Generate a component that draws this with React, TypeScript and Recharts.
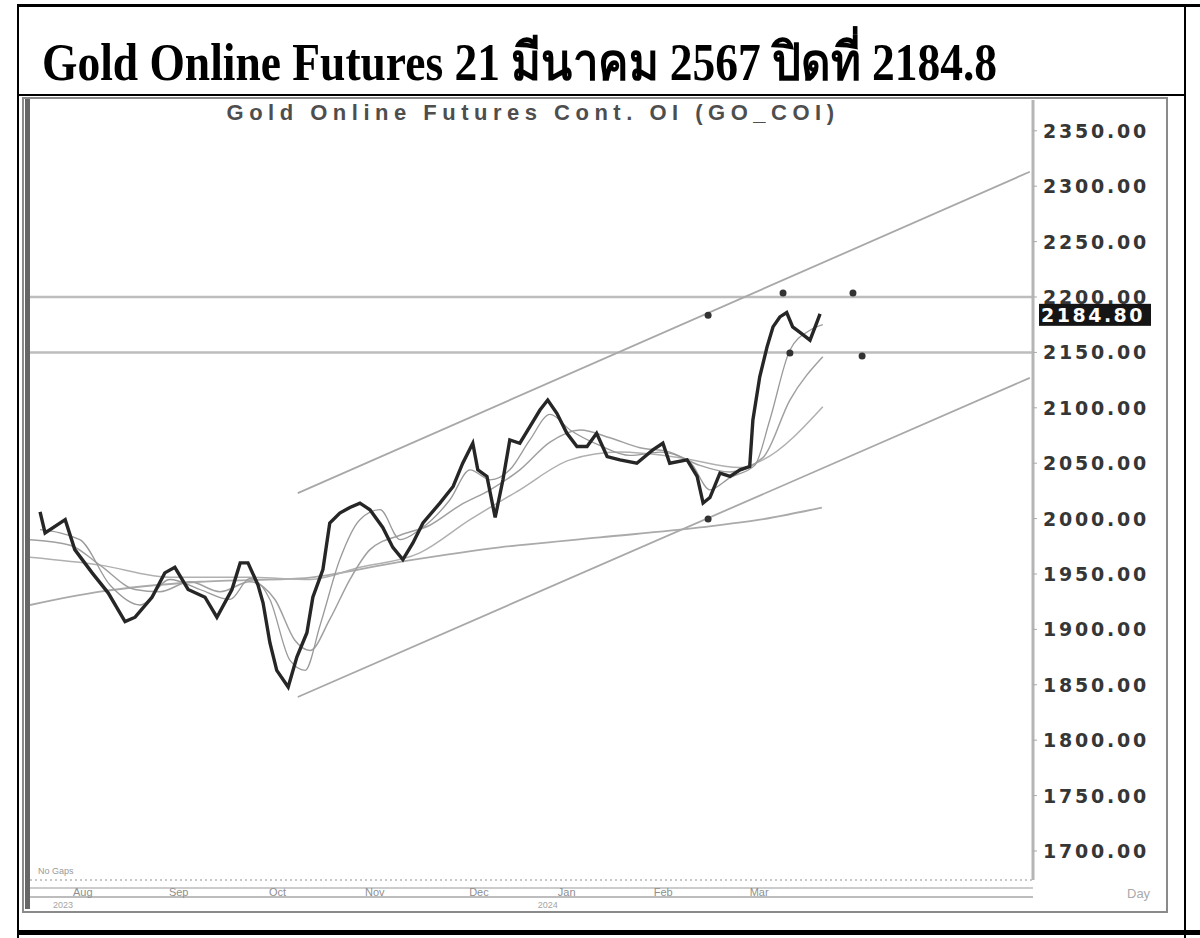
import React from 'react';
import { ComposedChart, Line, Scatter, XAxis, YAxis, ReferenceLine } from 'recharts';

// trading-day index (0 = left edge of the plot) and closing price
const closeDays = [2.2, 3.3, 7.7, 9.8, 13.6, 17.1, 20.8, 23, 26.7, 29.5, 31.7, 34.6, 38.3, 40.9, 44.2, 46, 47.7, 49.9, 51, 52.5, 54, 56.5, 58.4, 60.6, 61.9, 64.1, 65.6, 67.8, 70, 72.2, 74.4, 77.2, 79.4, 81.6, 83.8, 86, 89.7, 92.6, 94.7, 96.9, 98, 100, 101.8, 103.5, 105, 107.2, 109.4, 111.6, 113.3, 115.3, 117.5, 119.7, 121.9, 124, 126.3, 129.1, 132.8, 136.3, 138.5, 140, 143.8, 146, 147.3, 148.8, 151, 153.2, 155.4, 157.5, 158.2, 159.7, 161.3, 162.6, 164.1, 165.6, 166.9, 168.5, 170.7, 172.2, 172.9];
const closeValues = [2006, 1987, 1999, 1972, 1951, 1933, 1907, 1911, 1929, 1951, 1956, 1936, 1929, 1911, 1936, 1960, 1960, 1940, 1924, 1888, 1863, 1848, 1875, 1897, 1929, 1954, 1996, 2005, 2010, 2014, 2008, 1992, 1974, 1963, 1978, 1996, 2014, 2029, 2050, 2068, 2044, 2038, 2001, 2035, 2071, 2068, 2083, 2098, 2107, 2095, 2077, 2065, 2065, 2077, 2056, 2053, 2050, 2062, 2068, 2050, 2053, 2038, 2014, 2019, 2041, 2038, 2044, 2047, 2089, 2128, 2155, 2173, 2182, 2186, 2173, 2168, 2161, 2177, 2184.8];

// moving averages
const maFastDays = [2.2, 10.9, 17.5, 24.1, 30.6, 37.2, 43.8, 48.1, 52.5, 56.9, 60.2, 63.5, 67.8, 72.2, 76.6, 81, 85.3, 91.9, 96.3, 100.7, 105, 109.4, 113.8, 118.2, 124.7, 131.3, 137.9, 144.4, 148.8, 153.2, 158.6, 161.9, 166.3, 170.7, 173.5];
const maFastValues = [1990, 1981, 1940, 1922, 1945, 1936, 1927, 1946, 1927, 1872, 1863, 1904, 1963, 1999, 2008, 1981, 1990, 2017, 2044, 2035, 2044, 2071, 2094, 2080, 2066, 2057, 2060, 2051, 2026, 2037, 2048, 2089, 2152, 2170, 2175];

const maMidDays = [0, 8.8, 15.3, 23, 28.4, 35, 41.6, 48.1, 53.6, 58, 61.3, 65.6, 70, 74.4, 81, 87.5, 94.1, 100.7, 107.2, 113.8, 120.4, 126.9, 133.5, 140, 146.6, 153.2, 160.4, 166.3, 173.5];
const maMidValues = [1981, 1976, 1958, 1936, 1934, 1943, 1934, 1943, 1927, 1890, 1881, 1909, 1945, 1972, 1985, 1994, 2012, 2026, 2044, 2069, 2080, 2073, 2064, 2060, 2048, 2042, 2055, 2107, 2146];

const maSlowDays = [0, 15.3, 30.6, 48.1, 61.3, 72.2, 85.3, 96.3, 107.2, 118.2, 129.1, 142.2, 155.4, 160.4, 173.5];
const maSlowValues = [1965, 1958, 1947, 1947, 1945, 1956, 1969, 1999, 2026, 2053, 2060, 2055, 2046, 2053, 2101];

const maLongDays = [0, 15.3, 37.2, 59.1, 81, 102.8, 124.7, 146.6, 159.7, 173.3];
const maLongValues = [1922, 1934, 1943, 1946, 1961, 1974, 1983, 1992, 1999, 2010];

// trend channel and horizontal levels
const upperChannel = [{ x: 58.6, y: 2023 }, { x: 218.8, y: 2313 }];
const lowerChannel = [{ x: 58.6, y: 1839 }, { x: 218.8, y: 2127 }];
const levels = [2200, 2150];

// marker dots
const markerDays = [148.4, 164.8, 180.1, 166.3, 182.1, 148.4];
const markerValues = [2183.6, 2203.6, 2203.6, 2149.5, 2146.8, 1999.6];

const yTicks = [1700, 1750, 1800, 1850, 1900, 1950, 2000, 2050, 2100, 2150, 2200, 2250, 2300, 2350];
const monthDays = [9.4, 30.4, 52.3, 73.3, 96.1, 115.5, 136.5, 157.5];
const monthNames = ['Aug', 'Sep', 'Oct', 'Nov', 'Dec', 'Jan', 'Feb', 'Mar'];
const yearNames = ['2023', '', '', '', '', '2024', '', ''];

const lastClose = closeValues[closeValues.length - 1];

const toPoints = (days: number[], values: number[]) => days.map((d, i) => ({ d, v: values[i] }));

const MonthTick = ({ x, y, payload }: any) => {
  const i = monthDays.indexOf(payload.value);
  return (
    <g>
      <text x={x} y={y + 8} fontSize={11} fill="#8f8f8f" fontFamily="Liberation Sans, Arial, sans-serif">
        {monthNames[i]}
      </text>
      {yearNames[i] && (
        <text x={x - 20} y={y + 20} fontSize={9} fill="#a5a5a5" fontFamily="Liberation Sans, Arial, sans-serif">
          {yearNames[i]}
        </text>
      )}
    </g>
  );
};

const PriceTick = ({ x, y, payload }: any) => (
  <text x={x + 4} y={y + 7} fontSize={19} fontWeight="bold" fill="#363636" letterSpacing={2.8}
    fontFamily="DejaVu Sans, Arial, sans-serif">
    {payload.value.toFixed(2)}
  </text>
);

const PriceTag = ({ viewBox }: any) => {
  const x = viewBox.x + viewBox.width + 6;
  const y = viewBox.y;
  return (
    <g>
      <rect x={x} y={y - 10} width={112} height={22} fill="#151515" />
      <text x={x + 2} y={y + 8} fontSize={19} fontWeight="bold" fill="#fff" letterSpacing={2.5}
        fontFamily="DejaVu Sans, Arial, sans-serif">
        {lastClose.toFixed(2)}
      </text>
    </g>
  );
};

const box = (left: number, top: number, width: number, height: number, background: string): React.CSSProperties => ({
  position: 'absolute', left, top, width, height, background,
});

export default function App() {
  return (
    <div style={{ position: 'absolute', left: 0, top: 0, width: 1200, height: 938, background: '#fff', overflow: 'hidden' }}>
      {/* table frame */}
      <div style={box(17, 4, 1183, 3, '#000')} />
      <div style={box(17, 4, 2, 934, '#000')} />
      <div style={box(1184, 4, 2, 934, '#000')} />
      <div style={box(17, 94, 1169, 2, '#000')} />
      <div style={box(17, 930, 1183, 5, '#000')} />

      <div style={{
        position: 'absolute', left: 42, top: 20, whiteSpace: 'nowrap',
        fontFamily: "'Liberation Serif', 'Times New Roman', serif", fontWeight: 'bold', fontSize: 52,
        color: '#000', transform: 'scaleX(0.875)', transformOrigin: 'left top',
      }}>
        Gold Online Futures 21 มีนาคม 2567 ปิดที่ 2184.8
      </div>

      {/* chart picture frame */}
      <div style={{ position: 'absolute', left: 22, top: 97, width: 1142, height: 812, border: '2px solid #8a8a8a' }} />
      <div style={box(25, 99, 5, 810, '#666')} />
      <div style={box(30, 887, 1003, 2, '#ccc')} />
      <div style={box(30, 896, 1003, 2, '#bdbdbd')} />

      <div style={{
        position: 'absolute', left: 0, width: 1066, top: 100, textAlign: 'center',
        fontFamily: "'Liberation Sans', Arial, sans-serif", fontWeight: 'bold', fontSize: 22,
        letterSpacing: 5.5, color: '#4e4e4e',
      }}>
        Gold Online Futures Cont. OI (GO_COI)
      </div>
      <div style={{ position: 'absolute', left: 38, top: 866, fontSize: 9, color: '#999', fontFamily: 'Liberation Sans, Arial, sans-serif' }}>
        No Gaps
      </div>
      <div style={{ position: 'absolute', left: 1127, top: 886, fontSize: 13, color: '#aaa', fontFamily: 'Liberation Sans, Arial, sans-serif' }}>
        Day
      </div>

      <div style={{ position: 'absolute', left: 22, top: 97 }}>
        <ComposedChart width={1144} height={815} margin={{ top: 3, right: 0, bottom: 0, left: 8 }}>
          <XAxis
            type="number"
            dataKey="d"
            domain={[0, 219.5]}
            ticks={monthDays}
            allowDataOverflow
            height={32}
            tick={<MonthTick />}
            tickLine={false}
            axisLine={{ stroke: '#c8c8c8', strokeWidth: 2, strokeDasharray: '2 3' }}
            interval={0}
          />
          <YAxis
            type="number"
            dataKey="v"
            orientation="right"
            domain={[1673.8, 2377.8]}
            ticks={yTicks}
            allowDataOverflow
            width={133}
            tick={<PriceTick />}
            tickLine={{ stroke: '#aaa' }}
            tickSize={4}
            axisLine={{ stroke: '#b5b5b5', strokeWidth: 3 }}
            interval={0}
          />

          {levels.map((lv) => (
            <ReferenceLine key={lv} y={lv} stroke="#bdbdbd" strokeWidth={2.5} />
          ))}
          <ReferenceLine segment={upperChannel} stroke="#a8a8a8" strokeWidth={1.8} ifOverflow="visible" />
          <ReferenceLine segment={lowerChannel} stroke="#a8a8a8" strokeWidth={1.8} ifOverflow="visible" />

          <Line data={toPoints(maLongDays, maLongValues)} dataKey="v" type="monotone" stroke="#aaa" strokeWidth={1.8} dot={false} isAnimationActive={false} />
          <Line data={toPoints(maSlowDays, maSlowValues)} dataKey="v" type="monotone" stroke="#b0b0b0" strokeWidth={1.5} dot={false} isAnimationActive={false} />
          <Line data={toPoints(maMidDays, maMidValues)} dataKey="v" type="monotone" stroke="#a0a0a0" strokeWidth={1.5} dot={false} isAnimationActive={false} />
          <Line data={toPoints(maFastDays, maFastValues)} dataKey="v" type="monotone" stroke="#999" strokeWidth={1.3} dot={false} isAnimationActive={false} />
          <Line data={toPoints(closeDays, closeValues)} dataKey="v" type="linear" stroke="#262626" strokeWidth={3.4} dot={false} isAnimationActive={false} />

          <Scatter data={toPoints(markerDays, markerValues)} dataKey="v" fill="#333" shape={(p: any) => <circle cx={p.cx} cy={p.cy} r={3.5} fill="#333" />} isAnimationActive={false} />

          <ReferenceLine y={lastClose} stroke="none" ifOverflow="visible" label={<PriceTag />} />
        </ComposedChart>
      </div>
    </div>
  );
}
